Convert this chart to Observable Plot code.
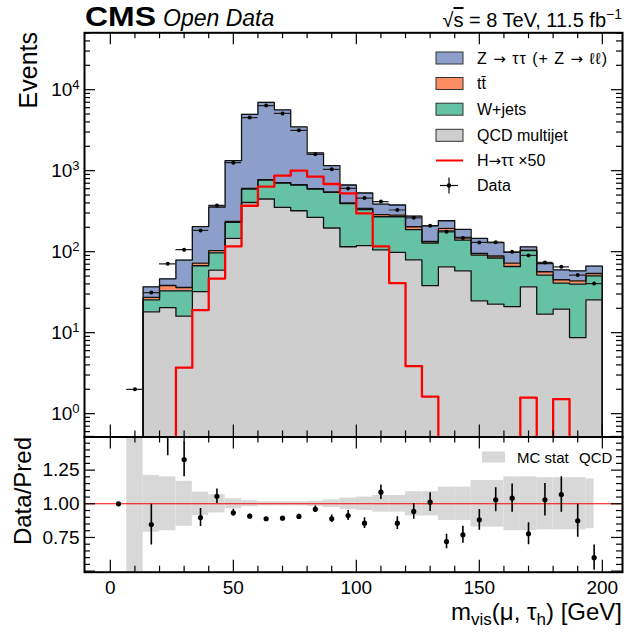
<!DOCTYPE html>
<html><head><meta charset="utf-8">
<script src="https://cdn.jsdelivr.net/npm/d3@7"></script>
<script src="https://cdn.jsdelivr.net/npm/@observablehq/plot@0.6"></script>
<style>
html,body{margin:0;padding:0;background:#fff;}
#wrap{position:relative;width:624px;height:633px;overflow:hidden;font-family:"Liberation Sans",Arial,Helvetica,sans-serif;}
#wrap > svg{position:absolute;left:0;}
</style></head><body><div id="wrap"></div>
<script>
// ---------------- data ----------------
const binLow = 0, binHigh = 200, nBins = 30;
const qcd   = [0,0,18.1,20.4,16.0,32.2,59.3,146,405,447,352,320,265,196,115,119,105,98,79,38,65,58,24.7,22.5,21.0,36.8,16.9,19.5,8.7,25.4];
const wjets = [0,0,7.3,12.5,16.9,34.8,37.6,84,189,320,353,345,329,344,277,211,165,172,108,90,116,81,66,61,44.6,66,34.5,21.4,31.1,25];
const ttbar = [0,0,1.8,5.3,3.2,5.3,6,6,10,8,8,8,7,7,7,12,16,13,16,6,13,11,4.2,4.9,6.7,2,5.1,4.1,3.9,3.4];
const ztt   = [0,0,9.6,8.0,42.6,131,253,1094,4361,6207,4910,2795,1055,606,267,188,101,94,72,75,47,38,51,40.7,25.5,10,15,14.7,14.4,12.6];
const higgsX50 = [0,0,0,0,3.7,19.0,46.6,116,369,634,867,1000,843,685,524,297,116,40.9,3.86,1.62,0,0,0,0,0,1.58,0,1.51,0,0];
const dataCounts = [0,2,31.3,70.8,106,183,372,1256,4520,6360,5100,3150,1590,1038,604,459,416,327,262,209,176,147,130,131,99.7,90,73.6,65,51.4,40.4];
const ratio = [1.00,null,0.846,1.54,1.329,0.898,1.056,0.933,0.908,0.889,0.893,0.906,0.96,0.889,0.913,0.856,1.086,0.856,0.943,1.012,0.72,0.77,0.881,1.03,1.042,0.777,1.03,1.069,0.874,0.60];
const mcStatHalf = [null,10,0.211,0.2,0.167,0.087,0.068,0.037,0.023,0.015,0.015,0.015,0.02,0.028,0.043,0.05,0.062,0.062,0.09,0.09,0.124,0.124,0.173,0.173,0.2,0.2,0.194,0.194,0.194,0.185];
const xMajorTicks = [0,50,100,150,200];
const yMajorTicks = [1,10,100,1000,10000];
const ratioTickLabels = [0.75,1.00,1.25];
const colors = {ztt:"#8c9fcb", ttbar:"#fc8d62", wjets:"#66c2a5", qcd:"#cecece", band:"#d8d8d8"};

// ---------------- derived ----------------
const edges = d3.range(nBins+1).map(i => binLow + i*(binHigh-binLow)/nBins);
const centers = d3.range(nBins).map(i => (edges[i]+edges[i+1])/2);
const FLOOR = 0.05, firstBin = 2;
const comps = [qcd, wjets, ttbar, ztt];
const cum = [];
let run = new Array(nBins).fill(0);
for (const c of comps) { run = run.map((v,k)=>v+c[k]); cum.push(run); }
const fl = v => Math.max(v, FLOOR);
function areaPts(lower, upper){
  const p=[];
  for(let k=firstBin;k<nBins;k++) p.push({x:edges[k], y1: lower?fl(lower[k]):FLOOR, y2: fl(upper[k])});
  p.push({x:edges[nBins], y1: lower?fl(lower[nBins-1]):FLOOR, y2: fl(upper[nBins-1])});
  return p;
}
function linePts(vals, start){
  const p=[{x:edges[start], y:FLOOR}];
  for(let k=start;k<nBins;k++) p.push({x:edges[k], y:fl(vals[k])});
  p.push({x:edges[nBins], y:fl(vals[nBins-1])});
  p.push({x:edges[nBins], y:FLOOR});
  return p;
}
const xMinorTicks = d3.range(10,200,10).filter(v => v%50!==0);
const yDomain = [0.515, 50400];
const yMinorTicks = [];
for (let e=-1;e<=4;e++) for (let m=2;m<=9;m++){const v=m*Math.pow(10,e); if(v>=yDomain[0]&&v<=yDomain[1]) yMinorTicks.push(v);}
const rMajor = [0.5,0.75,1,1.25,1.5];
const rMinor = d3.range(0.55,1.5,0.05).map(v=>+v.toFixed(2)).filter(v=>!rMajor.includes(v));

const FONT = '"Liberation Sans", Arial, Helvetica, sans-serif';
const W = 624, ML = 84, MR = 2;
const xDomain = [-10.5, 208.2];

// ---------------- main panel ----------------
const H1 = 440, MT1 = 32.3, MB1 = 3.5, FH1 = H1-MT1-MB1;
const dataPts = d3.range(nBins).filter(k=>dataCounts[k]>0).map(k=>({x:centers[k], x1:edges[k], x2:edges[k+1], y:dataCounts[k]}));
const tk = {stroke:"black", strokeWidth:1.2};
const main = Plot.plot({
  width: W, height: H1, marginLeft: ML, marginRight: MR, marginTop: MT1, marginBottom: MB1,
  style: {fontFamily: FONT, fontSize: "19px", background: "none", color: "black"},
  x: {domain: xDomain, axis: null},
  y: {type: "log", domain: yDomain},
  marks: [
    Plot.areaY(areaPts(null, cum[0]), {x:"x", y1:"y1", y2:"y2", fill:colors.qcd, curve:"step-after", clip:true}),
    Plot.areaY(areaPts(cum[0], cum[1]), {x:"x", y1:"y1", y2:"y2", fill:colors.wjets, curve:"step-after", clip:true}),
    Plot.areaY(areaPts(cum[1], cum[2]), {x:"x", y1:"y1", y2:"y2", fill:colors.ttbar, curve:"step-after", clip:true}),
    Plot.areaY(areaPts(cum[2], cum[3]), {x:"x", y1:"y1", y2:"y2", fill:colors.ztt, curve:"step-after", clip:true}),
    ...cum.map(c => Plot.line(linePts(c, firstBin), {x:"x", y:"y", stroke:"#111", strokeWidth:1.3, curve:"step-after", clip:true})),
    Plot.line(linePts(higgsX50, 0), {x:"x", y:"y", stroke:"#ff0000", strokeWidth:2.3, curve:"step-after", clip:true}),
    Plot.ruleY(dataPts, {y:"y", x1:"x1", x2:"x2", stroke:"#222", strokeWidth:1.2, clip:true}),
    Plot.dot(dataPts, {x:"x", y:"y", r:2, fill:"black", stroke:"none", clip:true}),
    Plot.tickX(xMajorTicks, {x:d=>d, insetTop:FH1-12, ...tk}),
    Plot.tickX(xMinorTicks, {x:d=>d, insetTop:FH1-6, ...tk}),
    Plot.tickX(xMajorTicks, {x:d=>d, insetBottom:FH1-12, ...tk}),
    Plot.tickX(xMinorTicks, {x:d=>d, insetBottom:FH1-6, ...tk}),
    Plot.tickY(yMajorTicks, {y:d=>d, insetRight:(W-ML-MR)-11, ...tk}),
    Plot.tickY(yMinorTicks, {y:d=>d, insetRight:(W-ML-MR)-6, ...tk}),
    Plot.tickY(yMajorTicks, {y:d=>d, insetLeft:(W-ML-MR)-11, ...tk}),
    Plot.tickY(yMinorTicks, {y:d=>d, insetLeft:(W-ML-MR)-6, ...tk}),
    Plot.axisY({ticks: yMajorTicks, tickFormat: d => "10^" + Math.round(Math.log10(d)), tickSize: 0, tickPadding: 5, label: null}),
    Plot.frame({stroke:"black", strokeWidth:2})
  ]
});
main.style.top = "0px";
d3.select(main).selectAll("text").each(function(){
  const t = this.textContent; const m = /^10\^(-?\d+)$/.exec(t);
  if (m) { this.innerHTML = '10<tspan dy="-0.5em" font-size="13px">' + m[1] + '</tspan>'; }
});

// ---------------- ratio panel ----------------
const top2 = 400, H2 = 633-top2, MT2 = 436.5-top2, MB2 = 633-571.7, FH2 = H2-MT2-MB2;
const bandPts = d3.range(nBins).filter(k=>mcStatHalf[k]!=null).map(k=>({x1:edges[k], x2: k===nBins-1?centers[k]:edges[k+1], y1:1-mcStatHalf[k], y2:1+mcStatHalf[k]}));
const ratioPts = d3.range(nBins).filter(k=>ratio[k]!=null).map(k=>({x:centers[k], y:ratio[k], e: (k>=firstBin && dataCounts[k]>0) ? ratio[k]/Math.sqrt(dataCounts[k]) : 0}));
const rat = Plot.plot({
  width: W, height: H2, marginLeft: ML, marginRight: MR, marginTop: MT2, marginBottom: MB2,
  style: {fontFamily: FONT, fontSize: "19px", background: "none", color: "black"},
  x: {domain: xDomain},
  y: {domain: [0.492, 1.496]},
  marks: [
    Plot.rect(bandPts, {x1:"x1", x2:"x2", y1:"y1", y2:"y2", fill:colors.band, clip:true}),
    Plot.ruleY([1], {stroke:"#ff0000", strokeWidth:1.1}),
    Plot.ruleX(ratioPts.filter(d=>d.e>0), {x:"x", y1:d=>d.y-d.e, y2:d=>d.y+d.e, stroke:"black", strokeWidth:1.6, clip:true}),
    Plot.dot(ratioPts, {x:"x", y:"y", r:2.6, fill:"black", stroke:"none", clip:true}),
    Plot.tickX(xMajorTicks, {x:d=>d, insetTop:FH2-12, ...tk}),
    Plot.tickX(xMinorTicks, {x:d=>d, insetTop:FH2-6, ...tk}),
    Plot.tickX(xMajorTicks, {x:d=>d, insetBottom:FH2-12, ...tk}),
    Plot.tickX(xMinorTicks, {x:d=>d, insetBottom:FH2-6, ...tk}),
    Plot.tickY(rMajor, {y:d=>d, insetRight:(W-ML-MR)-11, ...tk}),
    Plot.tickY(rMinor, {y:d=>d, insetRight:(W-ML-MR)-6, ...tk}),
    Plot.tickY(rMajor, {y:d=>d, insetLeft:(W-ML-MR)-11, ...tk}),
    Plot.tickY(rMinor, {y:d=>d, insetLeft:(W-ML-MR)-6, ...tk}),
    Plot.axisY({ticks: ratioTickLabels, tickFormat: d3.format(".2f"), tickSize: 0, tickPadding: 5, label: null}),
    Plot.axisX({ticks: xMajorTicks, tickFormat: d3.format("d"), tickSize: 0, tickPadding: 8, label: null}),
    Plot.frame({stroke:"black", strokeWidth:2})
  ]
});
rat.style.top = top2 + "px";

const wrap = document.getElementById("wrap");
wrap.appendChild(main);
wrap.appendChild(rat);

// ---------------- titles, labels, legends ----------------
const ARROW_FONT = '"DejaVu Sans", sans-serif';
const legendRows = [
  {parts:["Z ", ["→"], " ττ (+ Z ", ["→"], " ℓℓ)"], type:"box", color:colors.ztt, y:58, len:130},
  {parts:["tt̄"], type:"box", color:colors.ttbar, y:83.5},
  {parts:["W+jets"], type:"box", color:colors.wjets, y:109.2},
  {parts:["QCD multijet"], type:"box", color:colors.qcd, y:135.3},
  {parts:["H", ["→"], "ττ  ×50"], type:"line", color:"#ff0000", y:160.5},
  {parts:["Data"], type:"data", color:"black", y:185.5}
];
const ov = d3.create("svg").attr("width", W).attr("height", 633)
  .style("top","0px").style("pointer-events","none")
  .attr("font-family", FONT).attr("fill","black");
ov.append("text").attr("x",85).attr("y",26).attr("font-size",28).attr("font-weight","bold").attr("textLength",71).attr("lengthAdjust","spacingAndGlyphs").text("CMS");
ov.append("text").attr("x",163).attr("y",26).attr("font-size",23).attr("font-style","italic").text("Open Data");
const rt = ov.append("text").attr("x",622).attr("y",27).attr("font-size",20).attr("text-anchor","end");
rt.append("tspan").text("√");
rt.append("tspan").attr("text-decoration","overline").text("s");
rt.append("tspan").text(" = 8 TeV, 11.5 fb");
rt.append("tspan").attr("dy",-8).attr("font-size",14).text("−1");
// axis labels
ov.append("text").attr("transform","translate(37,32) rotate(-90)").attr("text-anchor","end").attr("font-size",25).text("Events");
ov.append("text").attr("transform","translate(31,437) rotate(-90)").attr("text-anchor","end").attr("font-size",24).text("Data/Pred");
const xl = ov.append("text").attr("x",622).attr("y",620).attr("text-anchor","end").attr("font-size",24);
xl.append("tspan").text("m");
xl.append("tspan").attr("dy",5).attr("font-size",17).text("vis");
xl.append("tspan").attr("dy",-5).text("(μ, τ");
xl.append("tspan").attr("dy",5).attr("font-size",17).text("h");
xl.append("tspan").attr("dy",-5).text(") [GeV]");
// main legend
for (const r of legendRows){
  if (r.type==="box") ov.append("rect").attr("x",436).attr("y",r.y-6).attr("width",27).attr("height",12).attr("fill",r.color).attr("stroke","#333").attr("stroke-width",1);
  else if (r.type==="line") ov.append("line").attr("x1",436).attr("x2",463).attr("y1",r.y).attr("y2",r.y).attr("stroke",r.color).attr("stroke-width",2);
  else {
    ov.append("line").attr("x1",440).attr("x2",458).attr("y1",r.y).attr("y2",r.y).attr("stroke","black").attr("stroke-width",1.2);
    ov.append("line").attr("x1",449).attr("x2",449).attr("y1",r.y-8).attr("y2",r.y+8).attr("stroke","black").attr("stroke-width",1.2);
    ov.append("circle").attr("cx",449).attr("cy",r.y).attr("r",2.2).attr("fill","black");
  }
  const t = ov.append("text").attr("x",477).attr("y",r.y+5.8).attr("font-size",16);
  if (r.len) t.attr("textLength", r.len).attr("lengthAdjust","spacing");
  for (const p of r.parts) {
    if (Array.isArray(p)) t.append("tspan").attr("font-family", ARROW_FONT).attr("font-size",15).text(p[0]);
    else t.append("tspan").text(p);
  }
}
// ratio legend
ov.append("rect").attr("x",482).attr("y",451.5).attr("width",23).attr("height",11).attr("fill",colors.band);
ov.append("text").attr("x",517).attr("y",462.5).attr("font-size",15).text("MC stat");
ov.append("text").attr("x",579).attr("y",462.5).attr("font-size",15).text("QCD");
wrap.appendChild(ov.node());
</script></body></html>
